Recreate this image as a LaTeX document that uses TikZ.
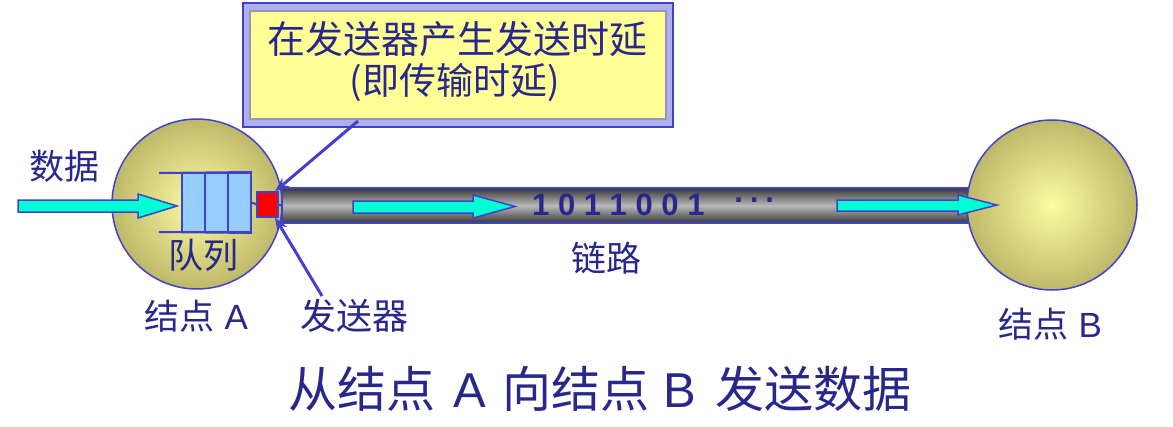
\documentclass[tikz,border=0pt]{standalone}
\usepackage{fontspec}
\setmainfont{Liberation Sans}
\newfontfamily\cjk{Noto Sans CJK SC}
\usetikzlibrary{arrows.meta}
\definecolor{txtblue}{RGB}{40,40,140}
\definecolor{lineblue}{RGB}{65,65,205}
\definecolor{cyanfill}{RGB}{0,255,210}
\definecolor{cellblue}{RGB}{150,205,255}
\definecolor{ballin}{RGB}{252,252,165}
\definecolor{ballout}{RGB}{190,185,105}
\definecolor{callyellow}{RGB}{255,255,150}
\definecolor{calllav}{RGB}{175,175,235}
\definecolor{callgray}{RGB}{150,150,185}
\definecolor{tubedark}{RGB}{55,55,55}
\definecolor{tubelight}{RGB}{185,185,185}
\definecolor{senderred}{RGB}{255,0,0}
\newcommand{\lat}[1]{{\rmfamily #1}}
\begin{document}
\begin{tikzpicture}[x=1pt,y=-1pt,
  lbl/.style={text=txtblue, inner sep=0pt, font=\cjk\fontsize{35}{42}\selectfont},
  ball/.style={circle, minimum size=170pt, inner sep=0pt, draw=lineblue, line width=1.5pt,
    inner color=ballin, outer color=ballout},
  fat/.style={draw=lineblue, line width=1.5pt, fill=cyanfill, line join=miter},
  cell/.style={rectangle, minimum width=23pt, minimum height=59pt, inner sep=0pt,
    draw=lineblue, line width=2pt, fill=cellblue},
  wire/.style={draw=lineblue, line width=2pt},
  ptrline/.style={draw=lineblue, line width=3pt, -{Stealth[length=14pt,width=11pt]}}
]
\useasboundingbox (0,0) rectangle (1173,426);
\fill[white] (0,0) rectangle (1173,426);

% node A
\node[ball] (nodeA) at (197,204) {};
% tube
\node[rectangle, minimum width=694pt, minimum height=35pt, inner sep=0pt,
  draw=lineblue, line width=1.5pt,
  top color=tubedark, bottom color=tubedark, middle color=tubelight] (tube) at (629,205.5) {};
% node B
\node[ball] (nodeB) at (1052,205) {};

% queue
\node[cell] (q1) at (193.5,202.5) {};
\node[cell] (q2) at (216.5,202.5) {};
\node[cell] (q3) at (239.5,202.5) {};
\coordinate (qtl) at (159,173);
\coordinate (qbl) at (159,232);
\draw[wire] (qtl) -- (q3.north east);
\draw[wire] (qbl) -- (q3.south east);

% sender
\node[rectangle, minimum width=21pt, minimum height=25pt, inner sep=0pt,
  draw=lineblue, line width=1.5pt, fill=senderred] (sender) at (267.5,204.5) {};
\draw[wire] (q3.east) -- (sender.west);
\draw[wire] (sender.east) -- (tube.west);

% data arrows
\draw[fat] (18,200) -- (138,200) -- (138,194) -- (177,206) -- (138,218) -- (138,212) -- (18,212) -- cycle;
\draw[fat] (353,201) -- (473,201) -- (473,195) -- (515,206.5) -- (473,218) -- (473,213) -- (353,213) -- cycle;
\draw[fat] (837,200) -- (958,200) -- (958,195) -- (997,205) -- (958,215) -- (958,211) -- (837,211) -- cycle;

% bits
\node[text=txtblue, inner sep=0pt, font=\bfseries\fontsize{31}{36}\selectfont, anchor=west] (bits) at (532,205) {1 0 1 1 0 0 1};
\node[text=txtblue, inner sep=0pt, font=\bfseries\fontsize{31}{36}\selectfont] (dots) at (755,204) {·\,·\,·};

% callout
\node[draw=lineblue, line width=2.5pt, fill=calllav, minimum width=430pt, minimum height=124pt, inner sep=0pt] (callout) at (458,65) {};
\node[draw=callgray, line width=1.5pt, fill=callyellow, minimum width=416pt, minimum height=108pt, inner sep=0pt] (callin) at (458,65) {};
\node[lbl, font=\cjk\fontsize{38}{45}\selectfont] (cline1) at (457,39) {在发送器产生发送时延};
\node[lbl, font=\cjk\fontsize{37}{45}\selectfont] (cline2) at (455,83) {(即传输时延)};

% pointers
\coordinate (p1) at (358,121);
\coordinate (p2) at (322,296);
\draw[ptrline] (p1) -- (sender.60);
\draw[ptrline] (p2) -- (sender.-60);

% labels
\node[lbl] (data) at (64,166) {数据};
\node[lbl] (queue) at (203,255) {队列};
\node[lbl, font=\cjk\fontsize{35}{42}\selectfont] (labA) at (196,316) {结点\hspace{0.3em}\lat{A}};
\node[lbl, font=\cjk\fontsize{36}{42}\selectfont] (labS) at (354,316) {发送器};
\node[lbl] (link) at (606,258) {链路};
\node[lbl, font=\cjk\fontsize{35}{42}\selectfont] (labB) at (1050,324) {结点\hspace{0.3em}\lat{B}};
\node[lbl, font=\cjk\fontsize{49}{56}\selectfont] (title) at (600,389) {从结点\hspace{0.38em}\lat{A}\hspace{0.32em}向结点\hspace{0.3em}\lat{B}\hspace{0.4em}发送数据};
\end{tikzpicture}
\end{document}
